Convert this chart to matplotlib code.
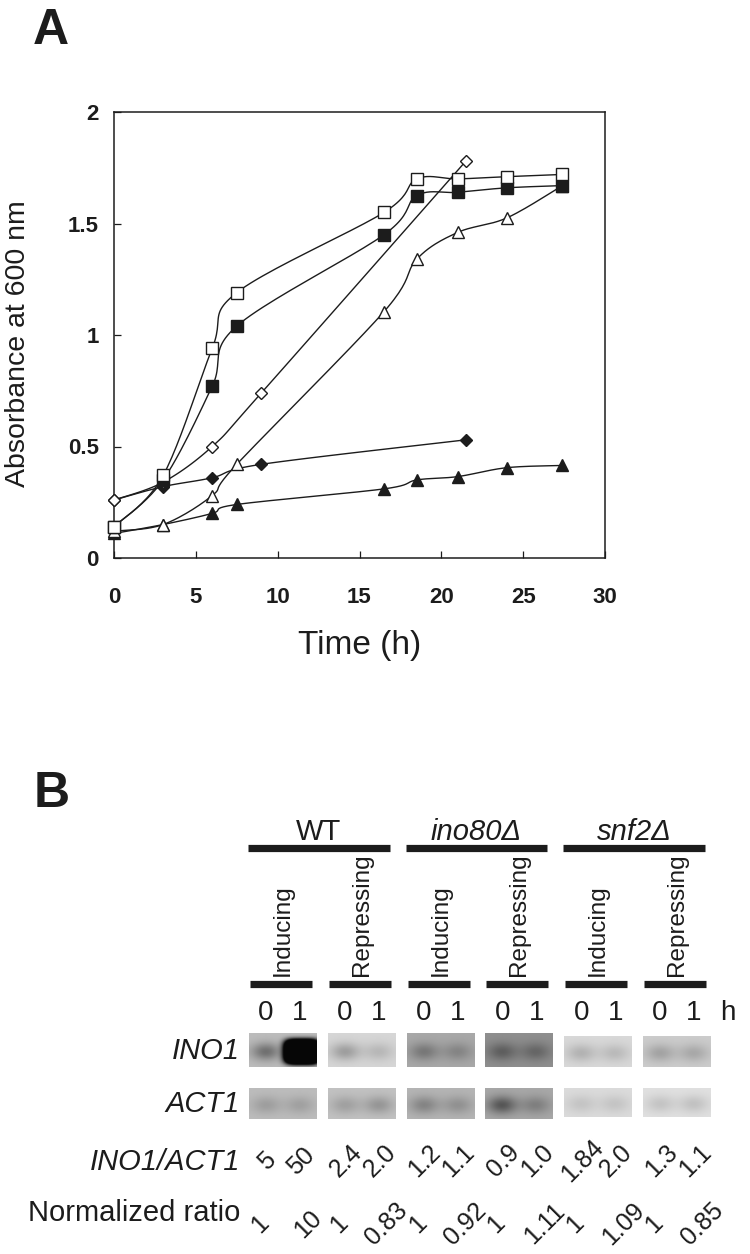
import numpy as np
import matplotlib.pyplot as plt

plt.rcParams['font.family'] = ['Liberation Sans', 'DejaVu Sans']
INK = '#1c1c1c'

# ---- panel A: growth curves ----
t_long = [0, 3, 6, 7.5, 16.5, 18.5, 21, 24, 27.4]
t_short = [0, 3, 6, 9, 21.5]

open_square = [0.14, 0.37, 0.94, 1.19, 1.55, 1.70, 1.70, 1.71, 1.72]
filled_square = [0.14, 0.35, 0.77, 1.04, 1.45, 1.625, 1.64, 1.66, 1.67]
open_triangle = [0.12, 0.15, 0.28, 0.42, 1.105, 1.34, 1.46, 1.525, 1.67]
filled_triangle = [0.11, 0.15, 0.20, 0.24, 0.31, 0.35, 0.365, 0.405, 0.415]
open_diamond = [0.26, 0.34, 0.50, 0.74, 1.78]
filled_diamond = [0.26, 0.32, 0.36, 0.42, 0.53]

# ---- panel B: northern blot ----
strains = ['WT', 'ino80Δ', 'snf2Δ']
conditions = ['Inducing', 'Repressing']
hours = ['0', '1']
row_names = ['INO1', 'ACT1', 'INO1/ACT1', 'Normalized ratio']

ino1_ratio = ['5', '50', '2.4', '2.0', '1.2', '1.1', '0.9', '1.0', '1.84', '2.0', '1.3', '1.1']
norm_ratio = ['1', '10', '1', '0.83', '1', '0.92', '1', '1.11', '1', '1.09', '1', '0.85']

# grey level of each blot box and band density of its two lanes
ino1_bg = [0.74, 0.84, 0.66, 0.56, 0.85, 0.80]
ino1_od = [[0.30, 2.6], [0.22, 0.12], [0.19, 0.14], [0.19, 0.16], [0.15, 0.12], [0.16, 0.14]]
act1_bg = [0.74, 0.76, 0.71, 0.66, 0.86, 0.88]
act1_od = [[0.12, 0.11], [0.13, 0.17], [0.19, 0.14], [0.32, 0.16], [0.09, 0.09], [0.11, 0.12]]


def smooth(x, y, n=24):
    # catmull-rom curve, close to excel's smoothed line
    p = np.column_stack([x, y]).astype(float)
    p = np.vstack([p[0], p, p[-1]])
    t = np.linspace(0, 1, n)[:, None]
    segs = []
    for i in range(1, len(p) - 2):
        p0, p1, p2, p3 = p[i - 1], p[i], p[i + 1], p[i + 2]
        segs.append(0.5 * (2 * p1 + (p2 - p0) * t + (2 * p0 - 5 * p1 + 4 * p2 - p3) * t ** 2
                           + (-p0 + 3 * p1 - 3 * p2 + p3) * t ** 3))
    c = np.vstack(segs)
    return c[:, 0], c[:, 1]


W, H = 750, 1254
fig = plt.figure(figsize=(W / 100, H / 100), dpi=100)

ax = fig.add_axes([114 / W, 1 - 558 / H, 491 / W, 446 / H])
series = [
    (t_short, filled_diamond, 'D', INK, 6.6),
    (t_long, filled_triangle, '^', INK, 8.8),
    (t_long, open_triangle, '^', 'white', 8.8),
    (t_short, open_diamond, 'D', 'white', 6.6),
    (t_long, filled_square, 's', INK, 8.6),
    (t_long, open_square, 's', 'white', 8.6),
]
for i, (tx, vals, mk, fc, ms) in enumerate(series):
    sx, sy = smooth(tx, vals)
    ax.plot(sx, sy, color=INK, lw=1.0, zorder=2 + i)
    ax.plot(tx, vals, ls='none', marker=mk, ms=ms, mfc=fc, mec=INK, mew=1.0,
            zorder=2.5 + i, clip_on=False)

ax.set_xlim(0, 30)
ax.set_ylim(0, 2)
ax.set_xticks(range(0, 31, 5))
ax.set_yticks([0, 0.5, 1, 1.5, 2])
ax.set_yticklabels(['0', '0.5', '1', '1.5', '2'])
ax.tick_params(direction='in', length=5, width=0.9, colors=INK, labelsize=16)
ax.tick_params(axis='x', pad=21)
ax.tick_params(axis='y', pad=11)
for lbl in ax.get_xticklabels() + ax.get_yticklabels():
    lbl.set_fontweight('bold')
for s in ax.spines.values():
    s.set_linewidth(1.1)
    s.set_color(INK)
ax.set_xlabel('Time (h)', fontsize=24, color=INK, labelpad=16)
ax.set_ylabel('Absorbance at 600 nm', fontsize=20.5, color=INK)
ax.yaxis.set_label_coords(-0.17, 0.48)

fig.text(33 / W, 1 - 8 / H, 'A', fontsize=36, fontweight='bold', color=INK, va='top')

# ---- panel B, drawn in pixel coordinates ----
bx = fig.add_axes([0, 0, 1, 1])
bx.set_xlim(0, W)
bx.set_ylim(H, 0)
bx.axis('off')
bx.patch.set_visible(False)

bx.text(34, 771, 'B', fontsize=36, fontweight='bold', color=INK, va='top')

box_left = [249 + 78.8 * k for k in range(6)]
box_w = 68
lane_x = [box_left[k] + 17 + 34 * j for k in range(6) for j in range(2)]

for g, name in enumerate(strains):
    x0 = box_left[2 * g] - 1
    x1 = box_left[2 * g + 1] + 62
    bx.plot([x0, x1], [848, 848], color=INK, lw=5.2, solid_capstyle='butt')
    bx.text((x0 + x1) / 2, 832, name, fontsize=21, color=INK, ha='center', va='center',
            style='normal' if g == 0 else 'italic')

for k in range(6):
    x0 = box_left[k] + 1
    bx.plot([x0, x0 + 62], [984, 984], color=INK, lw=5.2, solid_capstyle='butt')
    bx.text(x0 + 33, 976, conditions[k % 2], rotation=90, fontsize=17.5, color=INK,
            ha='center', va='bottom')

for i, x in enumerate(lane_x):
    bx.text(x, 1013, hours[i % 2], fontsize=20, color=INK, ha='center', va='center')
bx.text(728, 1013, 'h', fontsize=20, color=INK, ha='center', va='center')


def blot(k, top, bottom, bg, od):
    w = int(box_w * 2)
    h = int((bottom - top) * 2)
    xx = np.linspace(0, box_w, w)[None, :]
    yy = np.linspace(0, bottom - top, h)[:, None]
    img = np.full((h, w), float(bg))
    yc = (bottom - top) * 0.55
    for j in range(2):
        xc = 17 + 34 * j + (2 if od[j] > 1 else 0)
        if od[j] > 1:
            # saturated band: flat-topped blob
            g = np.exp(-((xx - xc) / 17) ** 4) * np.exp(-((yy - yc) / 12) ** 4)
        else:
            g = np.exp(-((xx - xc) / 15) ** 2) * np.exp(-((yy - yc) / 9) ** 2)
        img -= od[j] * g
    img = np.clip(img, 0.03, 1)
    bx.imshow(img, cmap='gray', vmin=0, vmax=1, extent=[box_left[k], box_left[k] + box_w, bottom, top],
              interpolation='bilinear', aspect='auto', zorder=1)


for k in range(6):
    off = 3 if k >= 4 else 0
    blot(k, 1033 + off, 1067, ino1_bg[k], ino1_od[k])
    blot(k, 1088, 1119 - off / 1.5, act1_bg[k], act1_od[k])

row_y = [1051, 1104, 1162, 1213]
for r, (name, y) in enumerate(zip(row_names, row_y)):
    bx.text(240, y, name, fontsize=21, color=INK, ha='right', va='center',
            style='italic' if r < 3 else 'normal')

for x, s in zip(lane_x, ino1_ratio):
    bx.text(x + 1, 1161, s, rotation=45, rotation_mode='anchor', fontsize=18, color=INK,
            ha='center', va='center')
for i, (x, s) in enumerate(zip(lane_x, norm_ratio)):
    dx = -6 if i % 2 == 0 else 8
    bx.text(x + dx, 1224, s, rotation=45, rotation_mode='anchor', fontsize=18, color=INK,
            ha='center', va='center')

fig.savefig('out.png', dpi=100)
